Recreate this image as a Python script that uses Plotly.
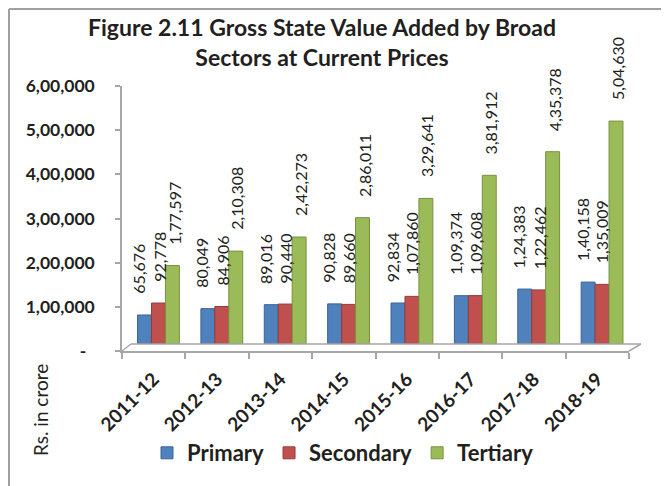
import plotly.graph_objects as go

years = ["2011-12", "2012-13", "2013-14", "2014-15", "2015-16", "2016-17", "2017-18", "2018-19"]
primary = [65676, 80049, 89016, 90828, 92834, 109374, 124383, 140158]
secondary = [92778, 84906, 90440, 89660, 107860, 109608, 122462, 135009]
tertiary = [177597, 210308, 242273, 286011, 329641, 381912, 435378, 504630]
series_names = ["Primary", "Secondary", "Tertiary"]
y_tick_vals = [0, 100000, 200000, 300000, 400000, 500000, 600000]
y_tick_text = ["-\u00a0\u00a0", "1,00,000", "2,00,000", "3,00,000", "4,00,000", "5,00,000", "6,00,000"]
title_text = "Figure 2.11 Gross State Value Added by Broad<br>Sectors at Current Prices"
y_title = "Rs. in crore"


def indian(n):
    s = str(int(n))
    if len(s) <= 3:
        return s
    last3 = s[-3:]
    rest = s[:-3]
    parts = []
    while len(rest) > 2:
        parts.insert(0, rest[-2:])
        rest = rest[:-2]
    if rest:
        parts.insert(0, rest)
    return ",".join(parts) + "," + last3


FONT = "Lato"
TXT = "#231f20"
AXC = "#a6a6a6"
colors = ["#4f81bd", "#c0504d", "#9bbb59"]
edges = ["#3b6496", "#963c3a", "#76923c"]
offsets = [-0.255, -0.035, 0.185]
label_shift = [-15, 5, 20]

# the page body has an 8px margin: figure pixel = page pixel - OFF
OFF = 8
W, H = 669 - OFF, 486 - OFF
# plot area geometry in page pixels
L, R, T, B = 122, 629, 79, 351
PW, PH = R - L, B - T
DEPTH = 7


def px(x):
    return (x - L) / PW


def py(y):
    return (B - y) / PH


fig = go.Figure()
# invisible trace so the front (visible) value axis is drawn
fig.add_trace(go.Scatter(
    x=[years[0]], y=[0], yaxis="y", mode="markers",
    marker=dict(opacity=0), showlegend=False, hoverinfo="skip",
))
annotations = []
for i, (name, vals) in enumerate(zip(series_names, [primary, secondary, tertiary])):
    fig.add_trace(go.Bar(
        x=years, y=vals, name=name, yaxis="y2",
        width=0.22, offset=offsets[i],
        marker=dict(color=colors[i], line=dict(color=edges[i], width=1)),
    ))
    for x, v in zip(years, vals):
        annotations.append(dict(
            x=x, y=v, xref="x", yref="y2", text=indian(v), showarrow=False,
            textangle=-90, xanchor="center", yanchor="bottom",
            xshift=label_shift[i], yshift=19,
            font=dict(family=FONT, size=16, color=TXT),
        ))

annotations.append(dict(
    x=px(40), y=py(410), xref="paper", yref="paper", text=y_title, showarrow=False,
    textangle=-90, xanchor="center", yanchor="middle",
    font=dict(family=FONT, size=19, color=TXT),
))
annotations.append(dict(
    x=px(322), y=py(11), xref="paper", yref="paper", text="<b>" + title_text + "</b>",
    showarrow=False, xanchor="center", yanchor="top", align="center",
    font=dict(family=FONT, size=23, color=TXT),
))

floor = dict(color=AXC, width=1.5)
border = dict(color="#a0a0a0", width=2)
BX, BY = OFF + 1, OFF + 1
shapes = [
    dict(type="line", xref="paper", yref="paper", x0=0, y0=0, x1=px(L + 9), y1=py(B - DEPTH), line=floor),
    dict(type="line", xref="paper", yref="paper", x0=px(L + 9), y0=py(B - DEPTH), x1=px(R + 12), y1=py(B - DEPTH), line=floor),
    dict(type="line", xref="paper", yref="paper", x0=px(R + 12), y0=py(B - DEPTH), x1=1, y1=0, line=floor),
    # outer border (left & top)
    dict(type="line", xref="paper", yref="paper", x0=px(BX), y0=py(BY), x1=px(BX), y1=py(500), line=border),
    dict(type="line", xref="paper", yref="paper", x0=px(BX), y0=py(BY), x1=px(690), y1=py(BY), line=border),
]

fig.update_layout(
    width=W, height=H,
    margin=dict(l=L - OFF, r=W - (R - OFF), t=T - OFF, b=H - (B - OFF), autoexpand=False),
    paper_bgcolor="white", plot_bgcolor="white",
    barmode="group",
    showlegend=True,
    legend=dict(
        orientation="h", x=(343 - OFF) / W, xref="container", xanchor="center",
        y=(H - (453 - OFF)) / H, yref="container", yanchor="middle",
        font=dict(family=FONT, size=22, color=TXT, weight="bold"),
        itemwidth=30, traceorder="normal",
    ),
    xaxis=dict(
        type="category", range=[-0.5, 7.5],
        showline=True, linecolor=AXC, linewidth=1.5,
        ticks="outside", tickson="boundaries", ticklen=6, tickcolor=AXC, tickwidth=1.5,
        tickangle=-45, ticklabelstandoff=8,
        tickfont=dict(family=FONT, size=19, color=TXT, weight="bold"),
        showgrid=False, zeroline=False, anchor="y",
    ),
    yaxis=dict(
        domain=[0, (PH - DEPTH) / PH],
        range=[0, 600000], tickvals=y_tick_vals, ticktext=y_tick_text,
        showline=True, linecolor=AXC, linewidth=1.5,
        ticks="outside", ticklen=5, tickcolor=AXC, tickwidth=1.5,
        ticklabelstandoff=17,
        tickfont=dict(family=FONT, size=17.5, color=TXT, weight="bold"),
        showgrid=False, zeroline=False, anchor="x",
    ),
    yaxis2=dict(
        domain=[DEPTH / PH, 1], range=[0, 600000], visible=False,
        showgrid=False, zeroline=False, anchor="x",
    ),
    annotations=annotations,
    shapes=shapes,
)

fig.write_html("out.html")
